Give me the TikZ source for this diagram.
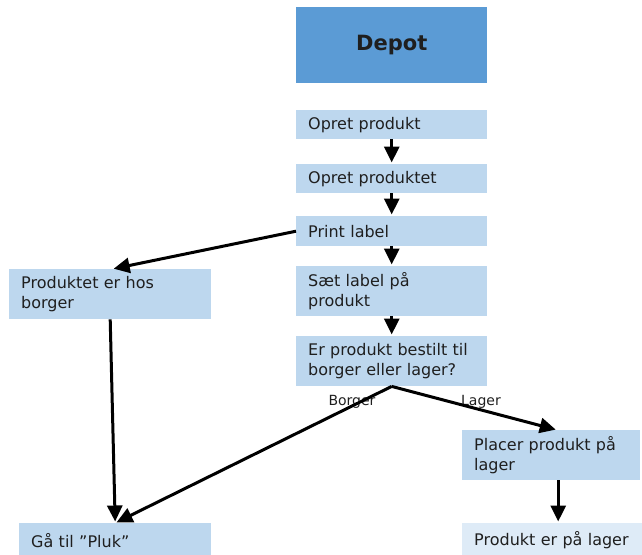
\documentclass[tikz,border=0pt]{standalone}
\usepackage{fontspec}
\setmainfont{DejaVu Sans}
\usetikzlibrary{arrows.meta}
\definecolor{darkblue}{HTML}{5B9BD5}
\definecolor{liteblue}{HTML}{BDD7EE}
\definecolor{paleblue}{HTML}{DEEBF7}
\begin{document}
\begin{tikzpicture}[x=1pt,y=-1pt,
 box/.style={fill=liteblue, anchor=north west, inner xsep=12pt, inner ysep=0pt, align=left,
   font=\fontsize{16}{20.5}\selectfont, text=black!88},
 arr/.style={line width=3pt, shorten >=1.5pt, -{Triangle[width=15pt,length=16pt]}},
 lbl/.style={font=\fontsize{14}{16}\selectfont, inner sep=0pt, text=black!88}]
\clip (0,0) rectangle (642,554);
\node[box, fill=darkblue, text width=167pt, minimum height=76pt, align=center,
  font=\fontsize{21}{24}\selectfont\bfseries] (depot) at (296,7) {Depot};
\node[box, text width=167pt, minimum height=29pt] (opret1) at (296,110) {Opret produkt};
\node[box, text width=167pt, minimum height=29pt] (opret2) at (296,164) {Opret produktet};
\node[box, text width=167pt, minimum height=30pt] (print) at (296,216) {Print label};
\node[box, text width=167pt, minimum height=50pt] (saet) at (296,266) {Sæt label på\\produkt};
\node[box, text width=167pt, minimum height=50pt] (er) at (296,336) {Er produkt bestilt til\\borger eller lager?};
\node[box, text width=178pt, minimum height=50pt] (borger) at (9,269) {Produktet er hos\\borger};
\node[box, text width=154pt, minimum height=50pt] (placer) at (462,430) {Placer produkt på\\lager};
\node[box, fill=paleblue, text width=157pt, minimum height=34pt] (lager) at (462,523) {Produkt er på lager};
\node[box, text width=168pt, minimum height=34pt] (pluk) at (19,523) {Gå til ”Pluk”};
\node[lbl] (lb) at (352,402) {Borger};
\node[lbl] (ll) at (481,402) {Lager};
\draw[arr] (opret1) -- (opret2);
\draw[arr] (opret2) -- (print);
\draw[arr] (print) -- (saet);
\draw[arr] (saet) -- (er);
\draw[arr] (print.west) -- ([xshift=2pt]borger.north);
\draw[arr] (borger.south) -- (pluk.north);
\draw[arr] (er.south) -- (pluk.north);
\draw[arr] (er.south) -- ([xshift=6pt]placer.north);
\draw[arr] ([xshift=7pt]placer.south) -- ([xshift=7pt]placer.south |- lager.north);
\end{tikzpicture}
\end{document}
